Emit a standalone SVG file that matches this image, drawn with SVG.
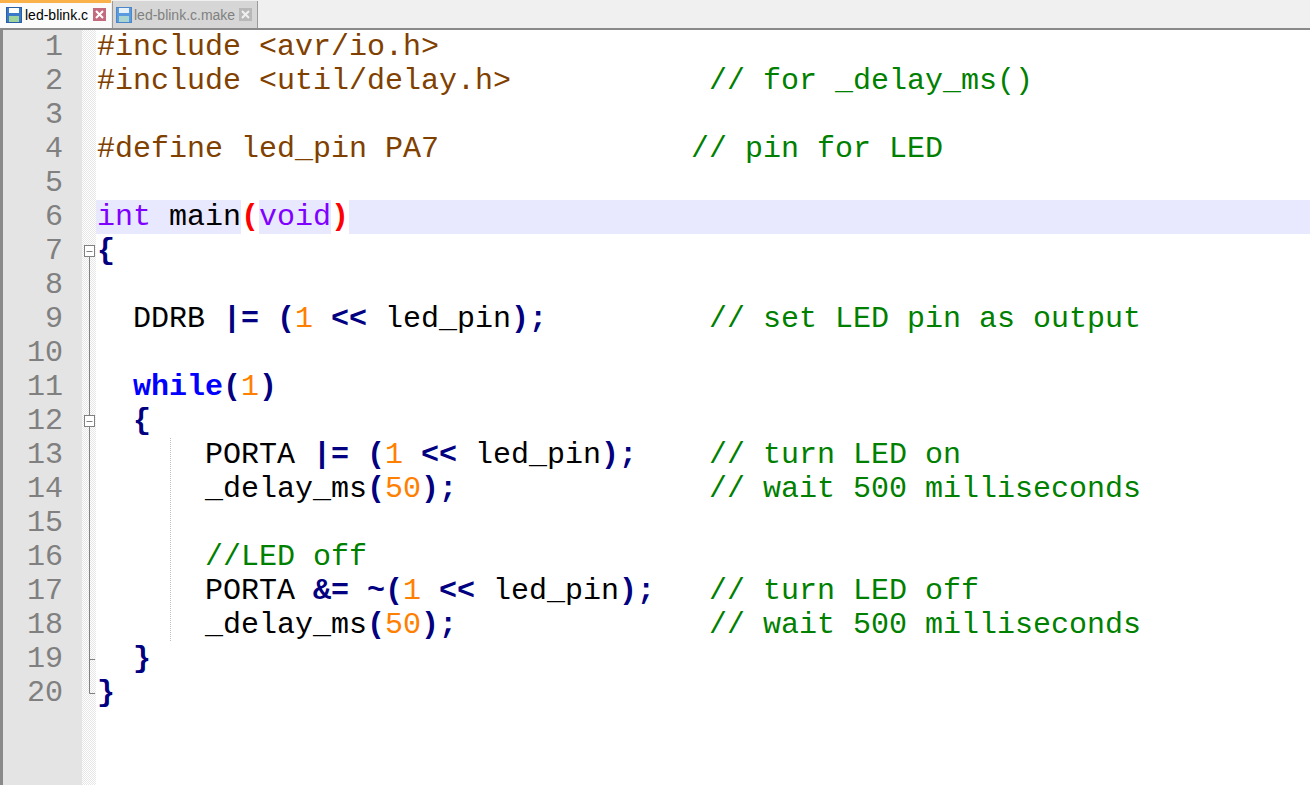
<svg xmlns="http://www.w3.org/2000/svg" width="1310" height="785" viewBox="0 0 1310 785">
<style>
.code{font-family:"Liberation Mono","Courier New",monospace;font-size:30px}
.ln{fill:#808080;text-anchor:end}
.pp{fill:#804000}
.cm{fill:#008000}
.ty{fill:#8000ff}
.id{fill:#000000}
.op{fill:#000080;font-weight:bold}
.nu{fill:#ff8000}
.kw{fill:#0000ff;font-weight:bold}
.br{fill:#ff0000;font-weight:bold}
.tab{font-family:"Liberation Sans",Arial,sans-serif;font-size:14px}
.fold{stroke:#808080;stroke-width:1;fill:none}
</style>
<defs>
<pattern id="chk" width="2" height="2" patternUnits="userSpaceOnUse">
<rect width="2" height="2" fill="#ffffff"/>
<rect width="1" height="1" fill="#e6e6e6"/>
<rect x="1" y="1" width="1" height="1" fill="#e6e6e6"/>
</pattern>
</defs>
<rect width="1310" height="785" fill="#ffffff"/>
<g id="tabbar">
<rect x="0" y="0" width="1310" height="28" fill="#f0f0f0"/>
<rect x="0" y="0" width="111" height="28" fill="#fbfbfb"/>
<rect x="0" y="0" width="111" height="3" fill="#fab14a"/>
<rect x="112" y="1" width="146" height="27" fill="#d6d6d6"/>
<line x1="112.5" y1="1" x2="112.5" y2="28" stroke="#9a9a9a"/>
<line x1="257.5" y1="1" x2="257.5" y2="28" stroke="#9a9a9a"/>
<rect x="0" y="28" width="1310" height="2" fill="#8a8a8a"/>
<rect x="0" y="30" width="3" height="755" fill="#8a8a8a"/>
</g>
<g id="tab1">
<rect x="6.5" y="7.5" width="15" height="15" fill="#3a78c8" stroke="#2a5fa8"/>
<rect x="9" y="8" width="10" height="5" fill="#ffffff"/>
<rect x="9" y="16" width="10" height="6" fill="#9fd39c"/>
<text class="tab" x="25" y="20" fill="#000000">led-blink.c</text>
<rect x="93" y="8" width="13" height="13" fill="#c46a7e"/>
<path d="M96 11 L103 18 M103 11 L96 18" stroke="#ffffff" stroke-width="2"/>
</g>
<g id="tab2">
<rect x="116.5" y="7.5" width="15" height="15" fill="#5a9be0" stroke="#4a86c8"/>
<rect x="119" y="8" width="10" height="5" fill="#e8f0f8"/>
<rect x="119" y="16" width="10" height="6" fill="#a9d4cf"/>
<text class="tab" x="134" y="20" fill="#808080">led-blink.c.make</text>
<rect x="239" y="8" width="13" height="13" fill="#b8b8b8"/>
<path d="M242 11 L249 18 M249 11 L242 18" stroke="#f0f0f0" stroke-width="2"/>
</g>
<g id="margins">
<rect x="3" y="30" width="79" height="755" fill="#e4e4e4"/>
<rect x="82" y="30" width="14" height="755" fill="url(#chk)"/>
</g>
<g id="caretline">
<rect x="96" y="200" width="1214" height="34" fill="#e8e8ff"/>
<rect x="241" y="200" width="18" height="34" fill="#ffffff"/>
<rect x="331" y="200" width="18" height="34" fill="#ffffff"/>
</g>
<g id="folding">
<line class="fold" x1="89.5" y1="256" x2="89.5" y2="693.5"/>
<line class="fold" x1="89.5" y1="693.5" x2="95" y2="693.5"/>
<line class="fold" x1="89.5" y1="659.5" x2="95" y2="659.5"/>
<rect x="84.5" y="245.5" width="10" height="11" fill="#ffffff" stroke="#808080"/>
<line class="fold" x1="86.5" y1="251.5" x2="92.5" y2="251.5"/>
<rect x="84.5" y="415.5" width="10" height="11" fill="#ffffff" stroke="#808080"/>
<line class="fold" x1="86.5" y1="421.5" x2="92.5" y2="421.5"/>
</g>
<g id="indentguide">
<line x1="170.5" y1="438" x2="170.5" y2="642" stroke="#c0c0c0" stroke-dasharray="1 1"/>
</g>
<g id="linenumbers" class="code ln">
<text x="63" y="55">1</text>
<text x="63" y="89">2</text>
<text x="63" y="123">3</text>
<text x="63" y="157">4</text>
<text x="63" y="191">5</text>
<text x="63" y="225">6</text>
<text x="63" y="259">7</text>
<text x="63" y="293">8</text>
<text x="63" y="327">9</text>
<text x="63" y="361">10</text>
<text x="63" y="395">11</text>
<text x="63" y="429">12</text>
<text x="63" y="463">13</text>
<text x="63" y="497">14</text>
<text x="63" y="531">15</text>
<text x="63" y="565">16</text>
<text x="63" y="599">17</text>
<text x="63" y="633">18</text>
<text x="63" y="667">19</text>
<text x="63" y="701">20</text>
</g>
<g id="code" class="code" xml:space="preserve">
<text y="55"><tspan class="pp" x="97">#include &lt;avr/io.h&gt;</tspan></text>
<text y="89"><tspan class="pp" x="97">#include &lt;util/delay.h&gt;</tspan><tspan class="cm" x="709">// for _delay_ms()</tspan></text>
<text y="157"><tspan class="pp" x="97">#define led_pin PA7</tspan><tspan class="cm" x="691">// pin for LED</tspan></text>
<text y="225"><tspan class="ty" x="97">int</tspan><tspan class="id" x="169">main</tspan><tspan class="br" x="241">(</tspan><tspan class="ty" x="259">void</tspan><tspan class="br" x="331">)</tspan></text>
<text y="259"><tspan class="op" x="97">{</tspan></text>
<text y="327"><tspan class="id" x="133">DDRB</tspan><tspan class="op" x="223">|=</tspan><tspan class="op" x="277">(</tspan><tspan class="nu" x="295">1</tspan><tspan class="op" x="331">&lt;&lt;</tspan><tspan class="id" x="385">led_pin</tspan><tspan class="op" x="511">);</tspan><tspan class="cm" x="709">// set LED pin as output</tspan></text>
<text y="395"><tspan class="kw" x="133">while</tspan><tspan class="op" x="223">(</tspan><tspan class="nu" x="241">1</tspan><tspan class="op" x="259">)</tspan></text>
<text y="429"><tspan class="op" x="133">{</tspan></text>
<text y="463"><tspan class="id" x="205">PORTA</tspan><tspan class="op" x="313">|=</tspan><tspan class="op" x="367">(</tspan><tspan class="nu" x="385">1</tspan><tspan class="op" x="421">&lt;&lt;</tspan><tspan class="id" x="475">led_pin</tspan><tspan class="op" x="601">);</tspan><tspan class="cm" x="709">// turn LED on</tspan></text>
<text y="497"><tspan class="id" x="205">_delay_ms</tspan><tspan class="op" x="367">(</tspan><tspan class="nu" x="385">50</tspan><tspan class="op" x="421">);</tspan><tspan class="cm" x="709">// wait 500 milliseconds</tspan></text>
<text y="565"><tspan class="cm" x="205">//LED off</tspan></text>
<text y="599"><tspan class="id" x="205">PORTA</tspan><tspan class="op" x="313">&amp;=</tspan><tspan class="op" x="367">~(</tspan><tspan class="nu" x="403">1</tspan><tspan class="op" x="439">&lt;&lt;</tspan><tspan class="id" x="493">led_pin</tspan><tspan class="op" x="619">);</tspan><tspan class="cm" x="709">// turn LED off</tspan></text>
<text y="633"><tspan class="id" x="205">_delay_ms</tspan><tspan class="op" x="367">(</tspan><tspan class="nu" x="385">50</tspan><tspan class="op" x="421">);</tspan><tspan class="cm" x="709">// wait 500 milliseconds</tspan></text>
<text y="667"><tspan class="op" x="133">}</tspan></text>
<text y="701"><tspan class="op" x="97">}</tspan></text>
</g>
</svg>
